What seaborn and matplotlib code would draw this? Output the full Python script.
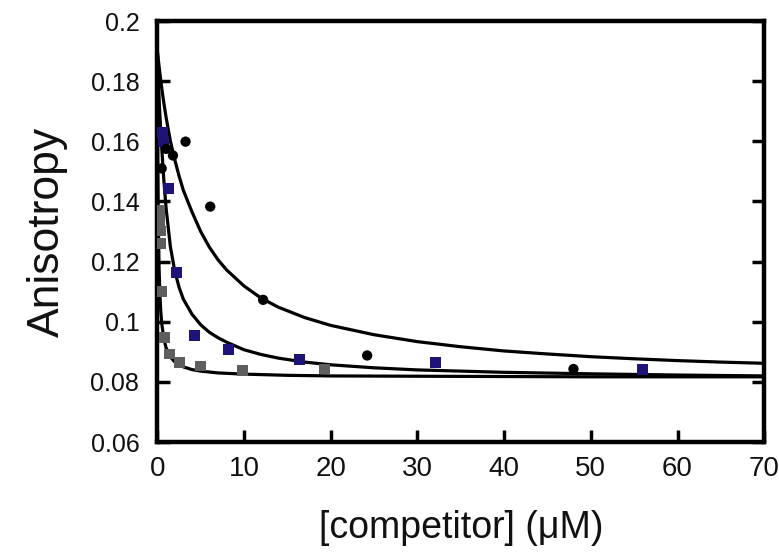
import warnings
import pandas as pd
import seaborn as sns
import matplotlib.pyplot as plt

warnings.simplefilter('ignore')

#%%
# data

black_x = [0.5, 1.0, 1.8, 3.25, 6.1, 12.2, 24.2, 48.0]
black_y = [0.151, 0.1575, 0.1553, 0.1599, 0.1383, 0.1073, 0.0888, 0.0843]

blue_x = [0.55, 0.7, 1.25, 2.22, 4.25, 8.18, 16.4, 32.1, 56.0]
blue_y = [0.1628, 0.1600, 0.1444, 0.1163, 0.0953, 0.0908, 0.0876, 0.0864, 0.0842]

gray_x = [0.28, 0.3, 0.32, 0.40, 0.52, 0.79, 1.44, 2.6, 5.0, 9.8, 19.3]
gray_y = [0.1370, 0.1335, 0.1302, 0.1261, 0.1100, 0.0948, 0.0893, 0.0864, 0.0853, 0.0839, 0.0843]

# fitted curves, points
fit_black_x = [0, 0.25, 0.5, 0.75, 1, 1.5, 2, 2.5, 3, 4, 5, 6, 7, 8, 10, 12, 14, 17, 20,
               25, 30, 35, 40, 45, 50, 55, 60, 65, 70]
fit_black_y = [0.190, 0.1836, 0.1778, 0.1727, 0.1681, 0.1601, 0.1540, 0.1485, 0.1437,
               0.1365, 0.1300, 0.1248, 0.1206, 0.1172, 0.1119, 0.1078, 0.1048, 0.1014,
               0.0988, 0.0957, 0.0934, 0.0917, 0.0903, 0.0893, 0.0884, 0.0877, 0.0871,
               0.0866, 0.0862]

fit_blue_x = [0, 0.1, 0.25, 0.5, 0.75, 1, 1.5, 2, 2.5, 3, 4, 5, 6, 7, 8, 10, 12, 14, 17,
              20, 25, 30, 40, 50, 60, 70]
fit_blue_y = [0.190, 0.182, 0.171, 0.158, 0.147, 0.138, 0.125, 0.117, 0.1115, 0.1075,
              0.1025, 0.0990, 0.0965, 0.0947, 0.0932, 0.0907, 0.0891, 0.0879, 0.0866,
              0.0857, 0.0847, 0.0840, 0.0832, 0.0827, 0.0823, 0.0820]

fit_gray_x = [0, 0.05, 0.1, 0.2, 0.3, 0.4, 0.5, 0.75, 1, 1.5, 2, 3, 4, 5, 7, 10, 15, 20,
              30, 50, 70]
fit_gray_y = [0.190, 0.1538, 0.1357, 0.1177, 0.1086, 0.1032, 0.0996, 0.0943, 0.0914,
              0.0883, 0.0867, 0.0850, 0.0841, 0.0836, 0.0830, 0.0826, 0.0822, 0.0820,
              0.0819, 0.0817, 0.0817]

x_ticks = [0, 10, 20, 30, 40, 50, 60, 70]
y_ticks = [0.06, 0.08, 0.1, 0.12, 0.14, 0.16, 0.18, 0.2]
y_tick_labels = ['0.06', '0.08', '0.1', '0.12', '0.14', '0.16', '0.18', '0.2']

pts = pd.concat([
    pd.DataFrame({'x': black_x, 'y': black_y, 'set': 'black'}),
    pd.DataFrame({'x': blue_x, 'y': blue_y, 'set': 'blue'}),
    pd.DataFrame({'x': gray_x, 'y': gray_y, 'set': 'gray'}),
])

#%%
# plot

sns.set_style('ticks')
plt.rcParams['font.family'] = ['Liberation Sans', 'DejaVu Sans']
plt.rcParams.update({'axes.edgecolor': 'black', 'xtick.color': 'black', 'ytick.color': 'black',
                     'text.color': '#111111', 'axes.labelcolor': '#111111'})

fig = plt.figure(figsize=(7.79, 5.54), dpi=100)
ax = fig.add_axes([0.202, 0.202, 0.779, 0.760])

for fx, fy in [(fit_black_x, fit_black_y), (fit_blue_x, fit_blue_y), (fit_gray_x, fit_gray_y)]:
    sns.lineplot(x=fx, y=fy, ax=ax, color='black', lw=2.3, estimator=None, sort=False, zorder=2)

sns.scatterplot(data=pts[pts['set'] == 'gray'], x='x', y='y', ax=ax, marker='s', s=62,
                color='#5e5e5e', edgecolor='none', zorder=3)
sns.scatterplot(data=pts[pts['set'] == 'blue'], x='x', y='y', ax=ax, marker='s', s=62,
                color='#1e1478', edgecolor='none', zorder=4)
sns.scatterplot(data=pts[pts['set'] == 'black'], x='x', y='y', ax=ax, marker='o', s=55,
                color='black', edgecolor='none', zorder=5)

ax.set_xlim(0, 70)
ax.set_ylim(0.06, 0.2)
ax.set_xticks(x_ticks)
ax.set_yticks(y_ticks)
ax.set_yticklabels(y_tick_labels)

for s in ax.spines.values():
    s.set_linewidth(3.2)
    s.set_visible(True)
    s.set_color('black')

ax.tick_params(axis='both', direction='in', length=9, width=2.5, labelcolor='#111111')
ax.tick_params(axis='y', right=True, pad=13, labelsize=18)
ax.tick_params(axis='x', top=False, pad=10, labelsize=20)

ax.set_xlabel('[competitor] (μM)', fontsize=27, labelpad=20)
ax.set_ylabel('Anisotropy', fontsize=32, labelpad=16)

fig.savefig('out.png', dpi=100)
